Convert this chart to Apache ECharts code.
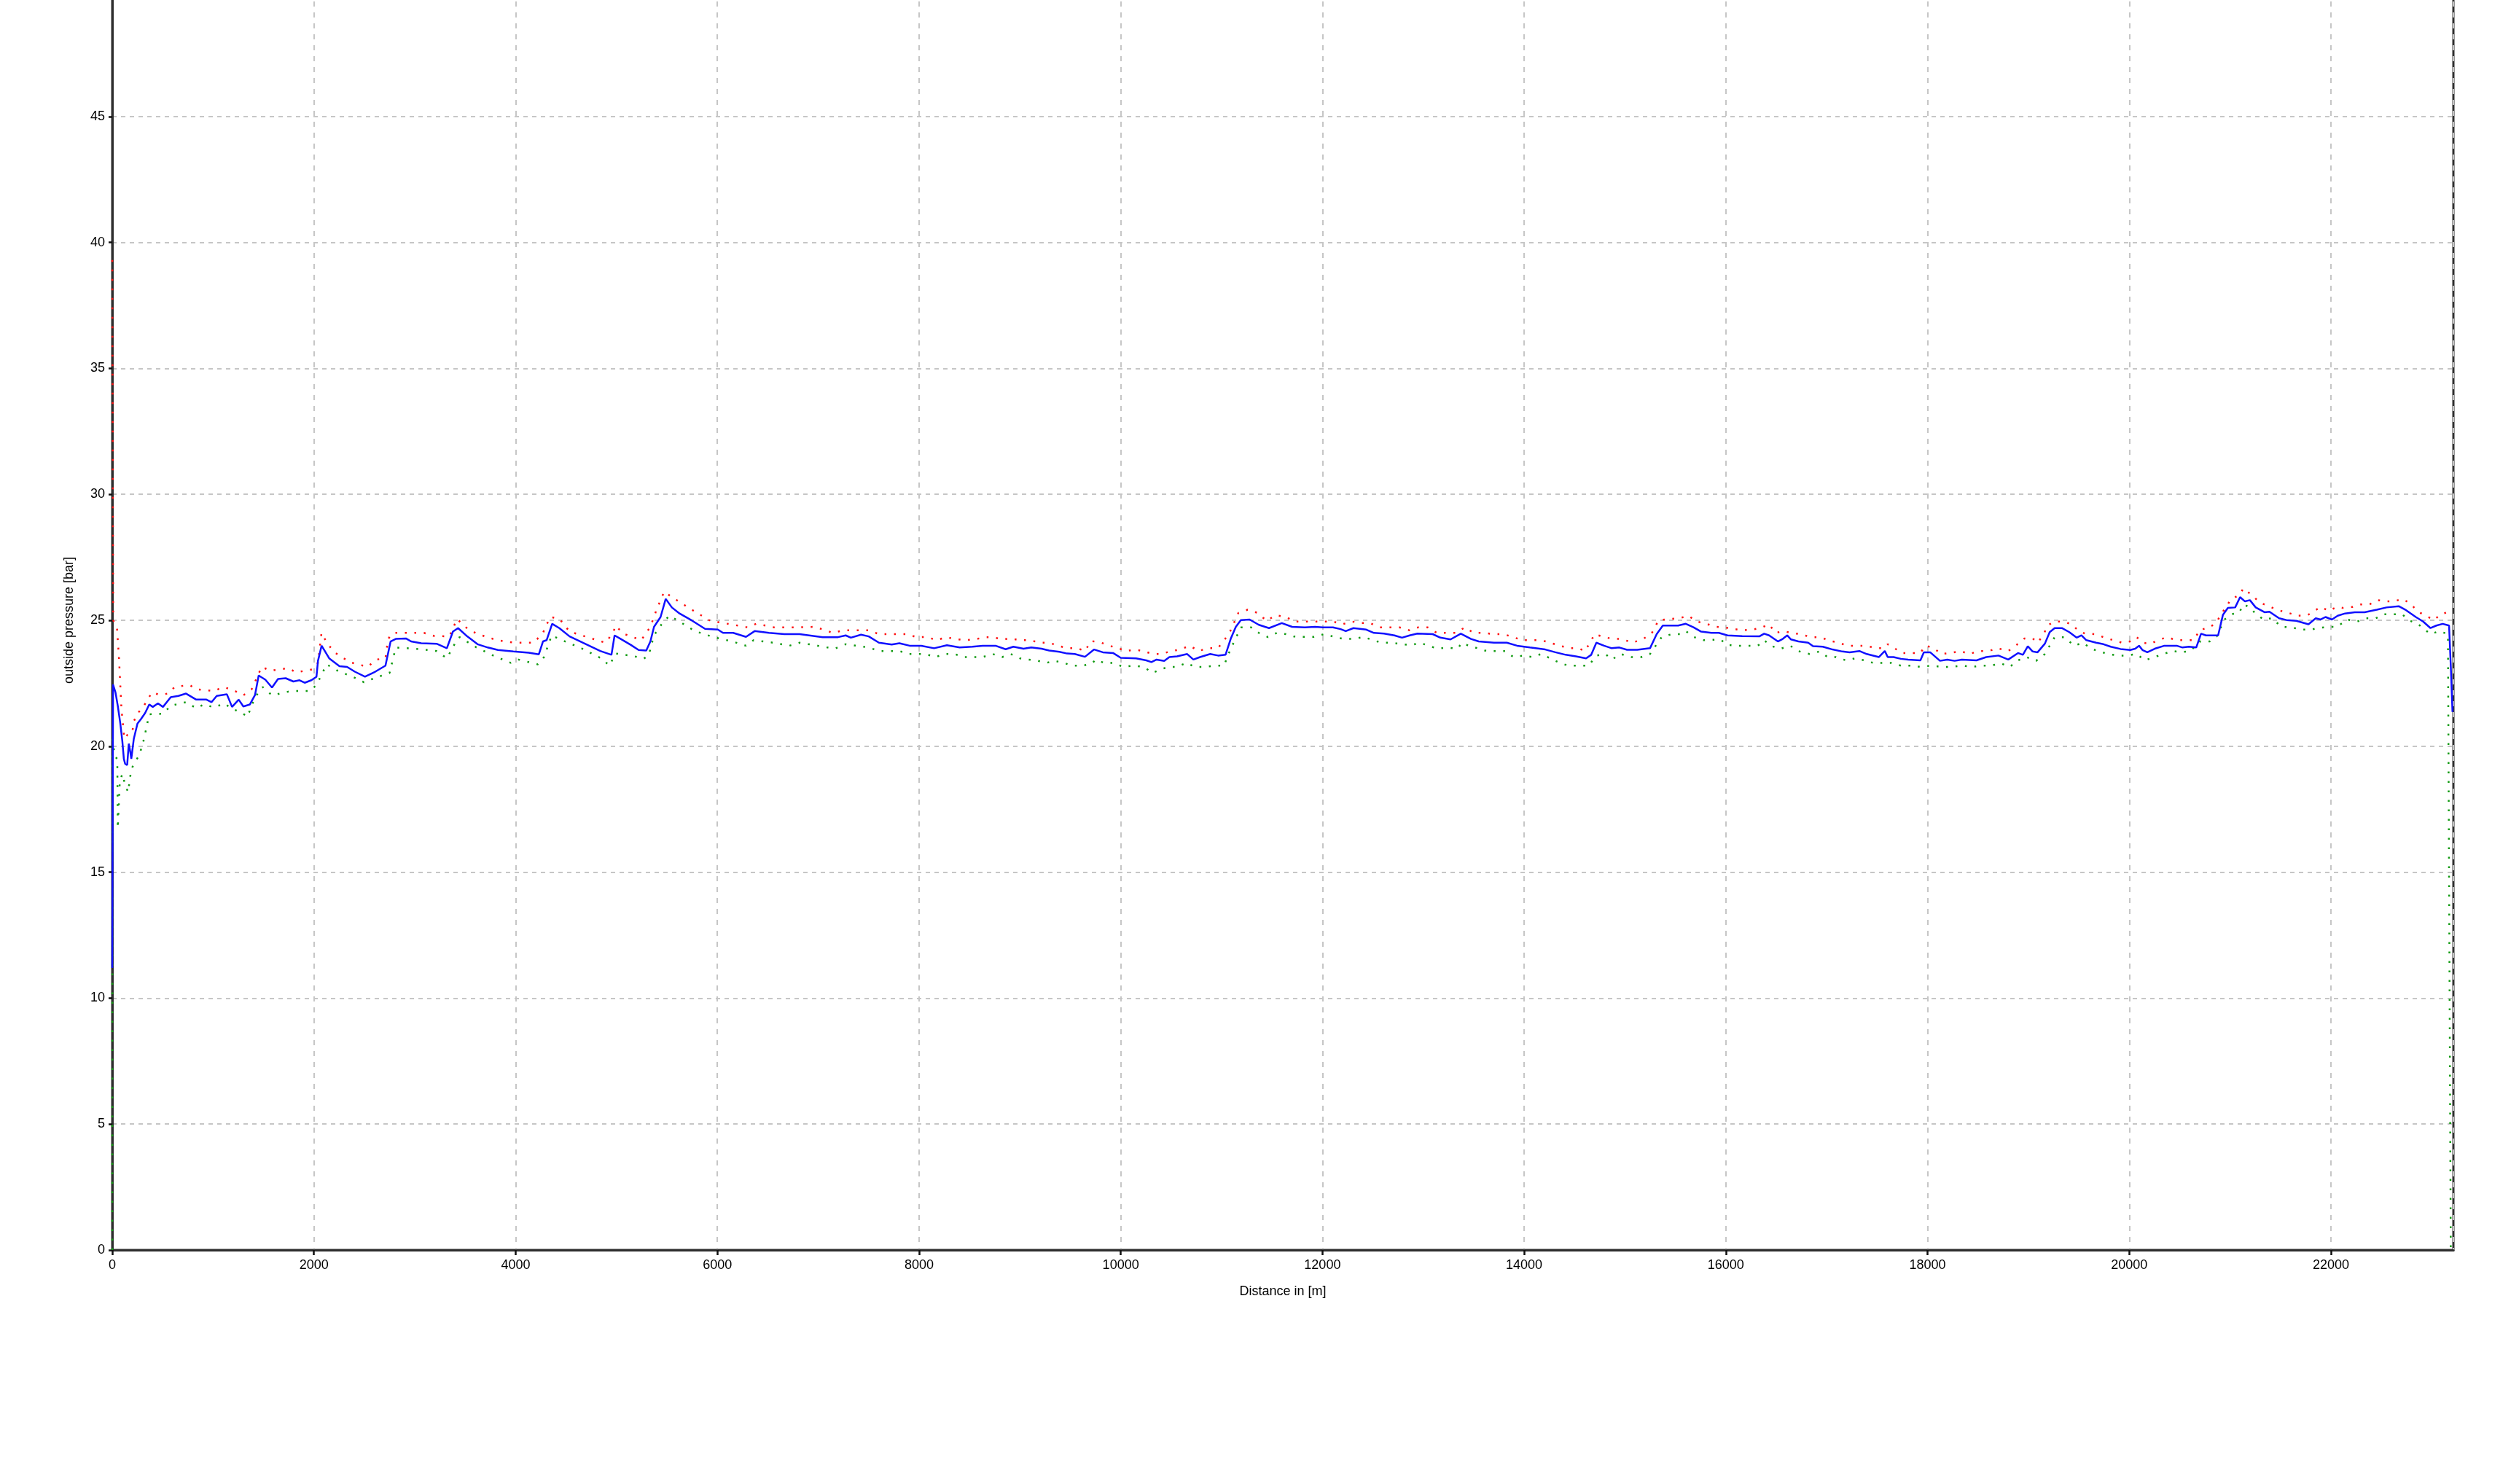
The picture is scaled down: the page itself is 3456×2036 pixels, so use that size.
<!DOCTYPE html>
<html>
<head>
<meta charset="utf-8">
<script src="https://cdn.jsdelivr.net/npm/echarts@6/dist/echarts.min.js"></script>
<style>
html,body{margin:0;padding:0;background:#fff;overflow:hidden;}
#chart{position:absolute;left:0;top:-13px;width:3456px;height:2049px;}
</style>
</head>
<body>
<div id="chart"></div>
<script>
// Axis settings (data units)
const xTitle = 'Distance in [m]';
const yTitle = 'outside pressure [bar]';
const xMin = 0, xMax = 23214, xStep = 2000;
const yMin = 0, yMax = 50, yStep = 5;

// [distance m, pressure bar] — measured curve (blue)
const measured = [
[0,11.2],[8,22.45],[14,22.43],[32,22.14],[55,21.6],[80,20.9],[100,20.2],[115,19.5],[128,19.3],[148,19.25],[164,20.1],[178,19.8],[189,19.5],[214,20.3],[250,20.9],[285,21.08],[326,21.32],[367,21.66],[402,21.56],[453,21.7],[503,21.56],[580,21.95],[656,22.0],[732,22.09],[833,21.85],[934,21.85],[985,21.75],[1036,22.0],[1137,22.06],[1188,21.56],[1254,21.85],[1300,21.58],[1365,21.66],[1416,22.04],[1452,22.81],[1518,22.64],[1584,22.33],[1644,22.67],[1720,22.7],[1796,22.57],[1857,22.62],[1908,22.52],[1974,22.62],[2025,22.76],[2040,23.39],[2076,23.99],[2151,23.49],[2253,23.18],[2329,23.15],[2405,22.96],[2506,22.76],[2608,22.96],[2709,23.2],[2760,24.16],[2811,24.26],[2912,24.28],[2963,24.16],[3064,24.09],[3216,24.07],[3318,23.89],[3378,24.55],[3429,24.69],[3520,24.36],[3622,24.05],[3723,23.92],[3825,23.82],[3977,23.76],[4129,23.71],[4230,23.65],[4271,24.16],[4307,24.21],[4362,24.86],[4433,24.69],[4535,24.36],[4687,24.07],[4839,23.78],[4950,23.63],[4981,24.4],[5042,24.26],[5143,24.02],[5219,23.82],[5295,23.8],[5336,24.16],[5372,24.74],[5437,25.13],[5488,25.85],[5549,25.51],[5625,25.27],[5752,24.98],[5878,24.66],[6005,24.63],[6056,24.5],[6157,24.5],[6284,24.34],[6370,24.57],[6512,24.5],[6664,24.45],[6816,24.45],[7045,24.33],[7197,24.33],[7273,24.4],[7324,24.31],[7425,24.43],[7501,24.36],[7602,24.11],[7729,24.04],[7805,24.09],[7906,23.99],
[8022,23.99],[8149,23.89],[8276,24.01],[8403,23.92],[8529,23.95],[8631,23.99],[8758,23.99],[8859,23.85],[8935,23.95],[9036,23.87],[9113,23.92],[9214,23.87],[9290,23.8],[9391,23.75],[9468,23.68],[9544,23.66],[9645,23.55],[9736,23.84],[9822,23.73],[9924,23.7],[10000,23.51],[10152,23.49],[10253,23.41],[10304,23.34],[10355,23.44],[10431,23.39],[10482,23.54],[10558,23.57],[10659,23.66],[10720,23.44],[10786,23.54],[10887,23.66],[10965,23.6],[11039,23.63],[11090,24.26],[11141,24.74],[11191,25.01],[11278,25.03],[11369,24.82],[11470,24.69],[11597,24.89],[11699,24.74],[11825,24.72],[11927,24.74],[12003,24.72],[12104,24.72],[12180,24.65],[12231,24.57],[12307,24.69],[12434,24.63],[12510,24.5],[12611,24.47],[12713,24.4],[12789,24.31],[12865,24.4],[12941,24.47],[13093,24.45],[13169,24.31],[13270,24.24],[13372,24.47],[13473,24.26],[13549,24.16],[13701,24.11],[13828,24.11],[13930,23.99],[14057,23.92],[14209,23.84],[14310,23.73],[14412,23.63],[14513,23.57],[14614,23.49],[14665,23.63],[14716,24.11],[14792,23.99],[14868,23.89],[14944,23.92],[15020,23.83],[15121,23.83],[15248,23.89],[15314,24.45],[15375,24.79],[15527,24.79],[15603,24.86],[15679,24.72],[15755,24.55],[15856,24.5],
[15930,24.5],[16017,24.4],[16162,24.37],[16332,24.36],[16380,24.47],[16429,24.4],[16516,24.16],[16564,24.26],[16608,24.4],[16646,24.24],[16719,24.16],[16816,24.11],[16864,23.97],[16961,23.95],[17058,23.84],[17155,23.76],[17227,23.73],[17324,23.78],[17397,23.66],[17518,23.54],[17576,23.78],[17605,23.54],[17663,23.54],[17735,23.47],[17808,23.44],[17929,23.41],[17963,23.73],[18026,23.73],[18123,23.39],[18195,23.44],[18268,23.39],[18340,23.44],[18485,23.41],[18582,23.54],[18703,23.6],[18800,23.44],[18897,23.7],[18945,23.63],[18994,23.97],[19042,23.76],[19091,23.73],[19163,24.07],[19211,24.53],[19260,24.69],[19332,24.69],[19405,24.53],[19478,24.31],[19526,24.4],[19574,24.21],[19671,24.11],[19744,24.05],[19816,23.95],[19913,23.86],[20010,23.82],[20059,23.87],[20097,23.99],[20131,23.82],[20179,23.73],[20252,23.87],[20349,23.99],[20470,23.99],[20528,23.92],[20591,23.95],[20664,23.92],[20712,24.47],[20760,24.4],[20881,24.4],[20929,25.22],[20978,25.49],[21050,25.51],[21099,25.92],[21147,25.75],[21196,25.8],[21254,25.51],[21341,25.32],[21390,25.34],[21486,25.08],[21559,25.01],[21656,24.98],[21777,24.84],[21849,25.08],[21898,25.03],[21946,25.13],[22009,25.03],[22067,25.18],[22140,25.27],[22236,25.32],[22333,25.32],[22454,25.42],[22551,25.51],[22672,25.56],[22745,25.4],[22841,25.13],[22914,24.95],[22987,24.69],[23045,24.79],[23108,24.86],[23171,24.79],[23190,23.0],[23205,21.36]
];

// [distance m, pressure bar] — upper limit (red dotted)
const upperLimit = [
[0,39.3],[10,25.0],[47,24.69],[67,23.5],[91,21.5],[120,20.3],[150,20.45],[200,20.55],[210,20.96],[260,21.35],[300,21.51],[350,21.85],[395,22.14],[468,22.04],[554,22.09],[620,22.36],[767,22.43],[833,22.26],[1011,22.19],[1097,22.35],[1188,22.25],[1300,22.02],[1381,22.25],[1482,23.15],[1568,23.0],[1746,23.1],[1822,22.93],[1984,23.05],[2040,23.31],[2075,24.5],[2126,24.12],[2202,23.73],[2354,23.34],[2532,23.15],[2618,23.44],[2709,23.49],[2735,24.26],[2785,24.5],[3090,24.5],[3191,24.38],[3343,24.36],[3419,25.05],[3510,24.71],[3612,24.47],[3815,24.21],[3987,24.11],[4180,24.11],[4271,24.5],[4342,25.13],[4433,25.06],[4535,24.55],[4712,24.33],[4890,24.11],[4966,24.5],[4991,24.79],[5067,24.47],[5245,24.21],[5336,24.74],[5397,25.42],[5473,26.14],[5549,25.92],[5726,25.47],[5929,24.98],[6132,24.84],[6299,24.72],[6385,24.86],[6562,24.72],[6766,24.72],[6968,24.74],[7146,24.5],[7248,24.6],[7501,24.6],[7602,24.45],[7891,24.45],
[7972,24.33],[8073,24.34],[8175,24.21],[8266,24.33],[8352,24.26],[8453,24.21],[8555,24.24],[8646,24.33],[8732,24.33],[8824,24.24],[8910,24.28],[8996,24.21],[9098,24.21],[9199,24.11],[9290,24.11],[9381,23.99],[9468,23.89],[9569,23.89],[9645,23.78],[9706,24.18],[9807,24.11],[9888,23.99],[9975,23.89],[10051,23.78],[10142,23.83],[10228,23.78],[10314,23.66],[10406,23.66],[10497,23.78],[10583,23.83],[10685,23.99],[10771,23.78],[10862,23.89],[10963,23.89],[11075,24.47],[11166,25.29],[11258,25.42],[11359,25.29],[11445,24.98],[11536,25.2],[11638,25.13],[11724,24.95],[11825,24.95],[11927,24.95],[12028,24.95],[12104,24.95],[12196,24.84],[12292,24.95],[12383,24.89],[12469,24.89],[12571,24.72],[12662,24.72],[12764,24.72],[12865,24.6],[12951,24.72],[13042,24.72],[13134,24.5],[13235,24.5],[13321,24.5],[13413,24.72],[13499,24.5],[13600,24.5],[13691,24.45],[13793,24.45],[13894,24.33],[13980,24.21],[14082,24.21],[14168,24.21],[14259,24.11],[14351,23.99],[14452,23.89],[14538,23.89],[14604,23.78],[14700,24.45],[14792,24.33],[14883,24.26],[14969,24.26],[15070,24.11],[15172,24.24],[15263,24.47],[15334,25.01],[15451,25.05],[15537,25.08],[15628,25.18],[15714,24.95],[15806,24.86],
[15896,24.74],[15978,24.72],[16075,24.66],[16162,24.6],[16259,24.63],[16341,24.69],[16429,24.84],[16491,24.5],[16574,24.57],[16646,24.5],[16743,24.45],[16840,24.33],[16937,24.33],[17034,24.18],[17121,24.11],[17203,23.99],[17300,23.99],[17387,23.99],[17493,23.89],[17566,23.89],[17605,24.05],[17672,23.89],[17750,23.7],[17847,23.7],[17929,23.7],[17977,23.99],[18050,23.92],[18137,23.66],[18229,23.7],[18326,23.78],[18413,23.66],[18510,23.78],[18607,23.78],[18694,23.89],[18800,23.78],[18873,23.99],[18960,24.28],[19042,24.28],[19091,24.11],[19153,24.45],[19187,24.79],[19260,24.95],[19347,24.95],[19429,24.84],[19492,24.6],[19560,24.47],[19662,24.45],[19744,24.33],[19841,24.21],[19928,24.11],[20010,24.16],[20073,24.33],[20141,24.11],[20204,24.05],[20286,24.21],[20373,24.33],[20470,24.21],[20542,24.21],[20639,24.21],[20702,24.63],[20785,24.69],[20857,24.89],[20905,25.18],[20944,25.44],[21012,25.85],[21089,25.99],[21133,26.27],[21220,25.98],[21293,25.71],[21380,25.56],[21476,25.4],[21573,25.3],[21670,25.18],[21767,25.2],[21834,25.37],[21898,25.53],[21980,25.37],[22057,25.53],[22116,25.49],[22212,25.53],[22299,25.63],[22382,25.63],[22464,25.8],[22551,25.75],[22624,25.75],[22706,25.85],[22778,25.69],[22866,25.34],[22938,25.18],[23025,25.01],[23083,25.24],[23180,25.34]
];

// [distance m, pressure bar] — lower limit (green dotted)
const lowerLimit = [
[0,0],[2,20.3],[25,19.6],[50,19.5],[55,16.74],[75,18.6],[100,18.9],[128,18.47],[157,18.18],[188,19.07],[214,19.29],[265,19.63],[301,20.06],[326,20.5],[367,21.27],[503,21.29],[580,21.61],[732,21.75],[833,21.51],[909,21.66],[1011,21.54],[1112,21.7],[1188,21.48],[1279,21.35],[1340,21.17],[1416,21.95],[1492,22.35],[1584,22.02],[1771,22.19],[1959,22.19],[2025,22.43],[2126,23.25],[2228,23.01],[2405,22.72],[2496,22.54],[2598,22.7],[2750,22.91],[2811,23.92],[3003,23.87],[3216,23.78],[3318,23.49],[3409,24.16],[3444,24.33],[3612,23.92],[3799,23.56],[3951,23.31],[4028,23.44],[4220,23.25],[4281,23.54],[4357,24.4],[4433,24.26],[4662,23.87],[4849,23.49],[4930,23.2],[4991,23.68],[5169,23.58],[5270,23.47],[5321,23.63],[5371,24.4],[5447,24.84],[5523,25.18],[5600,25.01],[5777,24.57],[5954,24.34],[6147,24.16],[6284,23.99],[6360,24.21],[6553,24.11],[6715,23.99],[6816,24.11],[6994,23.99],[7161,23.87],[7273,24.05],[7501,23.92],[7602,23.78],[7805,23.78],[7891,23.66],
[7972,23.66],[8063,23.66],[8164,23.54],[8251,23.66],[8352,23.66],[8438,23.54],[8529,23.54],[8631,23.54],[8732,23.66],[8824,23.54],[8910,23.66],[9001,23.49],[9087,23.44],[9179,23.39],[9265,23.31],[9341,23.39],[9432,23.31],[9518,23.2],[9620,23.2],[9706,23.27],[9757,23.44],[9833,23.31],[9924,23.31],[10025,23.15],[10127,23.2],[10228,23.15],[10314,22.91],[10380,23.02],[10467,23.15],[10558,23.15],[10649,23.31],[10735,23.15],[10837,23.15],[10938,23.2],[11024,23.2],[11065,23.63],[11105,23.99],[11191,24.72],[11293,24.72],[11369,24.5],[11460,24.33],[11547,24.5],[11638,24.45],[11734,24.34],[11825,24.34],[11917,24.34],[12018,24.45],[12119,24.34],[12206,24.26],[12307,24.26],[12408,24.34],[12500,24.21],[12586,24.11],[12687,24.11],[12779,24.05],[12880,24.01],[12966,24.11],[13052,23.99],[13143,23.87],[13235,23.92],[13337,23.87],[13387,24.11],[13448,23.99],[13539,23.89],[13625,23.78],[13727,23.78],[13813,23.78],[13894,23.54],[13996,23.6],[14082,23.54],[14168,23.66],[14259,23.49],[14351,23.31],[14437,23.2],[14538,23.2],[14639,23.2],[14716,23.6],[14807,23.66],[14868,23.44],[14959,23.66],[15060,23.54],[15162,23.54],[15248,23.66],[15314,24.05],[15365,24.34],[15466,24.45],[15552,24.45],[15603,24.57],[15679,24.34],[15780,24.21],
[15945,24.24],[16017,24.02],[16114,23.99],[16220,23.99],[16317,23.99],[16380,24.21],[16443,23.99],[16540,23.87],[16637,23.99],[16733,23.76],[16830,23.66],[16927,23.76],[17010,23.54],[17092,23.54],[17189,23.41],[17285,23.49],[17372,23.41],[17459,23.31],[17542,23.31],[17639,23.31],[17735,23.2],[17832,23.2],[17929,23.15],[18040,23.2],[18137,23.15],[18234,23.15],[18340,23.2],[18437,23.15],[18534,23.2],[18631,23.2],[18727,23.29],[18815,23.15],[18897,23.41],[18979,23.54],[19076,23.39],[19163,23.66],[19260,24.33],[19357,24.33],[19454,23.99],[19541,24.11],[19623,23.87],[19705,23.76],[19792,23.66],[19889,23.6],[19976,23.6],[20073,23.66],[20155,23.41],[20252,23.54],[20334,23.66],[20431,23.78],[20509,23.73],[20605,23.78],[20702,24.16],[20799,24.16],[20867,24.36],[20944,25.03],[21012,25.24],[21089,25.3],[21133,25.63],[21196,25.51],[21244,25.3],[21331,25.03],[21414,25.08],[21510,24.74],[21607,24.72],[21704,24.63],[21801,24.63],[21873,24.69],[21970,24.74],[22057,24.74],[22164,25.03],[22260,24.95],[22348,25.08],[22445,25.08],[22527,25.24],[22624,25.24],[22706,25.24],[22769,25.01],[22866,24.84],[22987,24.45],[23074,24.57],[23160,24.45],[23188,0]
];

const chart = echarts.init(document.getElementById('chart'), null, {renderer: 'canvas'});
const FONT = '"Liberation Sans", Arial, sans-serif';
const AXIS_COLOR = '#2e2e2e';

chart.setOption({
  animation: false,
  backgroundColor: '#ffffff',
  grid: {
    left: 154, right: 90, top: 0, bottom: 321,
    containLabel: false,
    show: true, borderColor: AXIS_COLOR, borderWidth: 3, backgroundColor: 'transparent'
  },
  xAxis: {
    type: 'value', min: xMin, max: xMax, interval: xStep,
    name: xTitle, nameLocation: 'middle', nameGap: 48,
    nameTextStyle: {fontFamily: FONT, fontSize: 18, color: '#000'},
    axisLine: {show: true, onZero: false, lineStyle: {color: AXIS_COLOR, width: 3}},
    axisTick: {show: true, length: 7, lineStyle: {color: '#111', width: 2.5}},
    axisLabel: {show: true, margin: 12, fontFamily: FONT, fontSize: 18, color: '#000', showMaxLabel: false,
      formatter: v => String(Math.round(v))},
    splitLine: {show: true, lineStyle: {color: '#c6c6c6', width: 2, type: [7, 8]}}
  },
  yAxis: {
    type: 'value', min: yMin, max: yMax, interval: yStep,
    name: yTitle, nameLocation: 'middle', nameGap: 50,
    nameTextStyle: {fontFamily: FONT, fontSize: 18, color: '#000'},
    axisLine: {show: true, onZero: false, lineStyle: {color: AXIS_COLOR, width: 3}},
    axisTick: {show: true, length: 5, lineStyle: {color: '#111', width: 2.5}},
    axisLabel: {show: true, margin: 10, fontFamily: FONT, fontSize: 18, color: '#000', showMaxLabel: false,
      formatter: v => String(v)},
    splitLine: {show: true, lineStyle: {color: '#c6c6c6', width: 2, type: [6, 6]}}
  },
  series: [
    {
      name: 'upper', type: 'line', data: upperLimit, showSymbol: false, symbol: 'none',
      lineStyle: {color: '#ff1010', width: 2.5, type: [2.5, 10.5]}, z: 2
    },
    {
      name: 'lower', type: 'line', data: lowerLimit, showSymbol: false, symbol: 'none',
      lineStyle: {color: '#109a10', width: 2.5, type: [2.5, 10.5]}, z: 2
    },
    {
      name: 'measured', type: 'line', data: measured, showSymbol: false, symbol: 'none',
      lineStyle: {color: '#1010ff', width: 2.5}, z: 3
    }
  ]
});
</script>
</body>
</html>
